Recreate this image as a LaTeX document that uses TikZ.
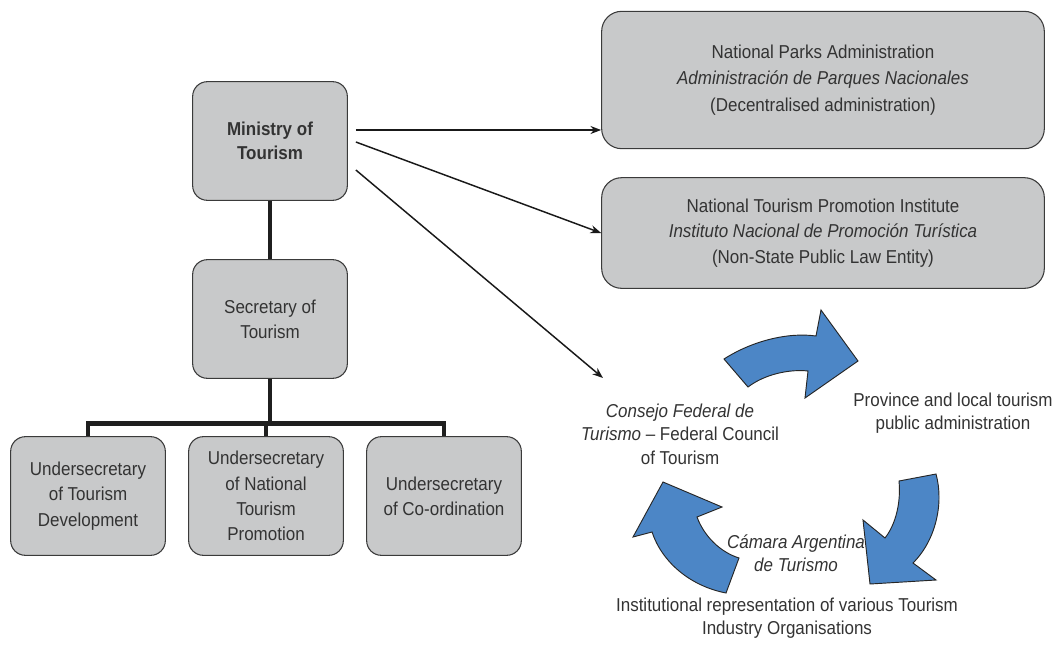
\documentclass[tikz,border=0pt]{standalone}
\usepackage{fontspec}
\setmainfont{Liberation Sans}[FakeStretch=0.91]
\usetikzlibrary{arrows.meta,calc}
\definecolor{boxfill}{HTML}{C8C9CA}
\definecolor{boxline}{HTML}{3A3A3A}
\definecolor{txt}{HTML}{333333}
\definecolor{cyc}{HTML}{4C86C6}
\tikzset{
  box/.style={draw=boxline,fill=boxfill,line width=0.8pt,rounded corners=11pt,
    align=center,text=txt,font=\fontsize{14}{19}\selectfont,
    minimum width=116pt,minimum height=89pt,inner sep=2pt},
  widebox/.style={box,rounded corners=15pt,minimum width=332pt},
  trunk/.style={line width=3.7pt,draw=black!88},
  link/.style={-{Stealth[length=8pt,width=6pt]},line width=1.1pt,black!90},
  cycarrow/.style={fill=cyc,draw=black!85,line width=0.7pt,line join=miter},
  cyctext/.style={align=center,text=txt,font=\fontsize{14}{17.5}\selectfont}
}

\begin{document}
\begin{tikzpicture}[x=0.75pt,y=-0.75pt]
\useasboundingbox (0,0) rectangle (1057,647);
% hierarchy
\node[box,font=\fontsize{14}{18}\selectfont\bfseries] (min) at (270,141) {Ministry of\\Tourism};
\node[box] (sec) at (270,319) {Secretary of\\Tourism};
\node[box] (u1) at (88,496) {Undersecretary\\of Tourism\\Development};
\node[box] (u2) at (266,496) {Undersecretary\\of National\\Tourism\\Promotion};
\node[box] (u3) at (444,496) {Undersecretary\\of Co-ordination};
\draw[trunk] (min.south) -- (sec.north);
\draw[trunk] (sec.south) -- ++(0,45) coordinate (bar);
\draw[trunk] (u1.north) |- (bar) -| (u3.north);
\draw[trunk] (u2.north) -- (u2.north |- bar);
% dependent bodies
\node[widebox,minimum height=103pt,font=\fontsize{14}{20}\selectfont] (npa) at (823,80)
  {National Parks Administration\\\textit{Administración de Parques Nacionales}\\(Decentralised administration)};
\node[widebox,minimum height=83pt] (ntpi) at (823,233)
  {National Tourism Promotion Institute\\\textit{Instituto Nacional de Promoción Turística}\\(Non-State Public Law Entity)};
\coordinate (cfin) at (603,378);
\draw[link] ($(min.east)+(8,-11)$) -- (npa.west |- {$(min.east)+(8,-11)$});
\draw[link] ($(min.east)+(8,1)$) -- (ntpi.west);
\draw[link] ($(min.east)+(8,29)$) -- (cfin);
% federal cycle
\node[cyctext] (cfed) at (680,434) {\textit{Consejo Federal de}\\\textit{Turismo} -- Federal Council\\of Tourism};
\node[cyctext] (prov) at (953,413) {Province and local tourism\\public administration};
\node[cyctext] (cam) at (796,553) {\textit{Cámara Argentina}\\\textit{de Turismo}};
\node[cyctext] (inst) at (787,618) {Institutional representation of various Tourism\\Industry Organisations};
\draw[cycarrow] (724,359) .. controls (752,341) and (788,332) .. (816,336)
  -- (821,310) -- (858,361) -- (805,398) -- (808,371)
  .. controls (790,369) and (765,374) .. (748,387) -- cycle;
\draw[cycarrow] (936,474) .. controls (944,503) and (936,540) .. (913,563)
  -- (936,580) -- (870,584) -- (863,520) -- (885,538)
  .. controls (896,524) and (901,502) .. (899,481) -- cycle;
\draw[cycarrow] (739,558) .. controls (720,552) and (704,536) .. (697,517)
  -- (722,507) -- (663,482) -- (633,537) -- (652,532)
  .. controls (662,562) and (690,586) .. (726,593) -- cycle;
\end{tikzpicture}
\end{document}
